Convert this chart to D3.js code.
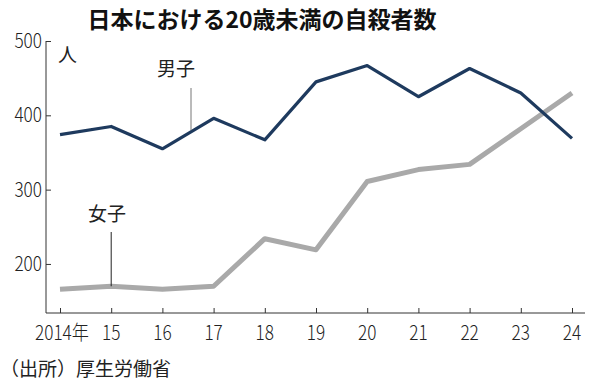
<!DOCTYPE html>
<html lang="ja">
<head>
<meta charset="utf-8">
<title>日本における20歳未満の自殺者数</title>
<script src="https://cdn.jsdelivr.net/npm/d3@7"></script>
<style>
  body { margin: 0; background: #fff; }
  svg { display: block; font-family: "Noto Sans CJK JP", "Noto Sans", sans-serif; }
</style>
</head>
<body>
<script>
// data
const years = [2014, 2015, 2016, 2017, 2018, 2019, 2020, 2021, 2022, 2023, 2024];
const yearLabels = ["2014年", "15", "16", "17", "18", "19", "20", "21", "22", "23", "24"];
const boys  = [374, 385, 355, 396, 367, 445, 467, 425, 463, 430, 369];
const girls = [166, 170, 166, 170, 234, 219, 311, 327, 334, 382, 430];
const yTicks = [200, 300, 400, 500];

const w = 596, h = 387;

const svg = d3.select("body").append("svg")
    .attr("width", w)
    .attr("height", h);

const x = d3.scaleLinear().domain([2014, 2024]).range([60, 572]);
const y = d3.scaleLinear().domain([134, 500]).range([313, 41]);

// title
svg.append("text")
    .attr("x", 262).attr("y", 28)
    .attr("text-anchor", "middle")
    .attr("font-size", 23).attr("font-weight", "bold")
    .attr("fill", "#111")
    .text("日本における20歳未満の自殺者数");

// y axis, ticks pointing inward
const yAxis = svg.append("g")
    .attr("transform", "translate(46,0)")
    .call(d3.axisRight(y).tickValues(yTicks).tickSize(5).tickFormat(""));
yAxis.select(".domain").attr("d", "M0," + y(500) + "V" + y(134));
yAxis.selectAll("line, path").attr("stroke", "#333");

svg.selectAll(".ylab").data(yTicks).enter().append("text")
    .attr("class", "ylab")
    .attr("x", 42).attr("y", d => y(d) + 7)
    .attr("text-anchor", "end")
    .attr("font-size", 20).attr("font-weight", 300).attr("fill", "#222")
    .attr("transform", d => "translate(42," + (y(d) + 7) + ") scale(0.86,1) translate(-42," + (-y(d) - 7) + ")")
    .text(d => d);

svg.append("text")
    .attr("x", 58).attr("y", 62)
    .attr("font-size", 19).attr("fill", "#222")
    .text("人");

// x axis, ticks pointing up
const xAxis = svg.append("g")
    .attr("transform", "translate(0,313)")
    .call(d3.axisTop(x).tickValues(years).tickSize(5).tickFormat(""));
xAxis.select(".domain").attr("d", "M46,0H585");
xAxis.selectAll("line, path").attr("stroke", "#333");

svg.selectAll(".xlab").data(years).enter().append("text")
    .attr("class", "xlab")
    .attr("x", (d, i) => i === 0 ? 89 : x(d))
    .attr("y", 340)
    .attr("text-anchor", (d, i) => i === 0 ? "end" : "middle")
    .attr("font-size", 20).attr("font-weight", 300).attr("fill", "#222")
    .attr("transform", (d, i) => {
        const px = i === 0 ? 89 : x(d);
        return "translate(" + px + ",340) scale(0.86,1) translate(" + (-px) + ",-340)";
    })
    .text((d, i) => yearLabels[i]);

// lines
const line = d3.line().x((d, i) => x(years[i])).y(d => y(d));

svg.append("path")
    .datum(girls)
    .attr("d", line)
    .attr("fill", "none")
    .attr("stroke", "#a9a9a9")
    .attr("stroke-width", 5)
    .attr("stroke-linejoin", "round");

svg.append("path")
    .datum(boys)
    .attr("d", line)
    .attr("fill", "none")
    .attr("stroke", "#1e3a5e")
    .attr("stroke-width", 3.2)
    .attr("stroke-linejoin", "round");

// series labels with leader lines
svg.append("line")
    .attr("x1", 191).attr("x2", 191)
    .attr("y1", 88).attr("y2", y(380))
    .attr("stroke", "#777").attr("stroke-width", 1);
svg.append("text")
    .attr("x", 176).attr("y", 76)
    .attr("text-anchor", "middle")
    .attr("font-size", 19).attr("fill", "#222")
    .text("男子");

svg.append("line")
    .attr("x1", x(2015)).attr("x2", x(2015))
    .attr("y1", 232).attr("y2", y(girls[1]))
    .attr("stroke", "#222").attr("stroke-width", 1);
svg.append("text")
    .attr("x", 107).attr("y", 221)
    .attr("text-anchor", "middle")
    .attr("font-size", 19).attr("fill", "#222")
    .text("女子");

// source
svg.append("text")
    .attr("x", 0).attr("y", 376)
    .attr("font-size", 19).attr("fill", "#222")
    .text("（出所）厚生労働省");
</script>
</body>
</html>
